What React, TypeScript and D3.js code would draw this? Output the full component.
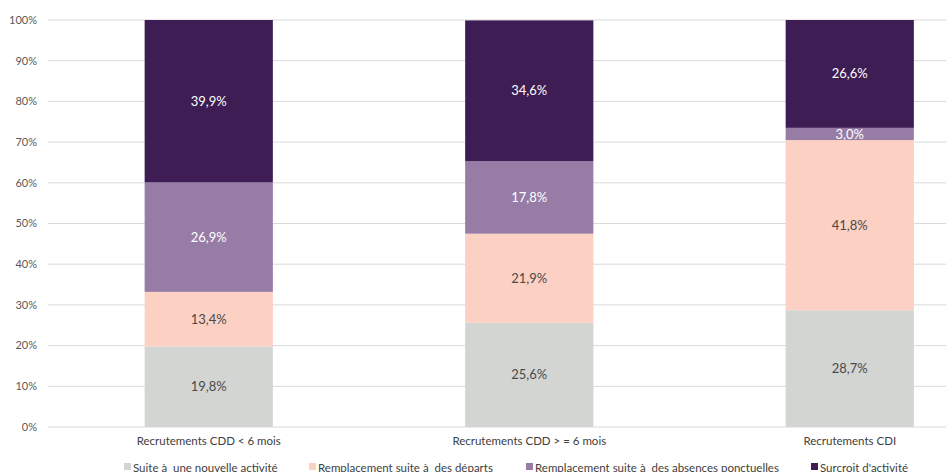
import React from "react";
import * as d3 from "d3";

const categories = ["Recrutements CDD < 6 mois", "Recrutements CDD > = 6 mois", "Recrutements CDI"];
const seriesNames = [
  "Suite à  une nouvelle activité",
  "Remplacement suite à  des départs",
  "Remplacement suite à  des absences ponctuelles",
  "Surcroit d'activité",
];
const nouvelleActivite = [19.8, 25.6, 28.7];
const departs = [13.4, 21.9, 41.8];
const absences = [26.9, 17.8, 3.0];
const surcroit = [39.9, 34.6, 26.6];
const yTicks = [0, 10, 20, 30, 40, 50, 60, 70, 80, 90, 100];
const colors = ["#d3d5d2", "#fcd0c2", "#977ca6", "#3d1d54"];
const labelColors = ["#4a4a4a", "#4a4a4a", "#ffffff", "#ffffff"];
const legendX = [124, 309, 526, 811];

const W = 946;
const H = 472;
const FONT = "Lato, 'Open Sans', sans-serif";

export default function App() {
  const series = [nouvelleActivite, departs, absences, surcroit];
  const x = d3.scaleBand<string>().domain(categories).range([48.5, 1010]).padding(0);
  const y = d3.scaleLinear().domain([0, 100]).range([427, 20]);
  const barW = x.bandwidth() * 0.4;

  const stacks = categories.map((c, i) => {
    let acc = 0;
    return series.map((s, k) => {
      const v = s[i];
      const y0 = acc;
      acc += v;
      return { k, v, y0, y1: Math.min(acc, 100) };
    });
  });

  const fmt = (v: number) => v.toFixed(1).replace(".", ",") + "%";

  return (
    <svg width={W} height={H} style={{ position: "absolute", left: 0, top: 0 }} fontFamily={FONT}>
      <rect width={W} height={H} fill="#ffffff" />
      {yTicks.map((t) => (
        <g key={t}>
          <line x1={48} x2={W} y1={y(t)} y2={y(t)} stroke="#d9d9d9" strokeWidth={1} />
          <text x={37} y={y(t)} dy="0.35em" textAnchor="end" fontSize={11} fill="#595959">
            {t}%
          </text>
        </g>
      ))}
      {categories.map((c, i) => {
        const cx = (x(c) as number) + x.bandwidth() / 2;
        return (
          <g key={c}>
            {stacks[i].map((s) => (
              <g key={s.k}>
                <rect
                  x={cx - barW / 2}
                  width={barW}
                  y={y(s.y1)}
                  height={y(s.y0) - y(s.y1)}
                  fill={colors[s.k]}
                />
                <text
                  x={cx}
                  y={(y(s.y0) + y(s.y1)) / 2}
                  dy="0.35em"
                  textAnchor="middle"
                  fontSize={13}
                  fill={labelColors[s.k]}
                >
                  {fmt(s.v)}
                </text>
              </g>
            ))}
            <text x={cx} y={441} dy="0.35em" textAnchor="middle" fontSize={11.5} fill="#404040">
              {c}
            </text>
          </g>
        );
      })}
      {seriesNames.map((n, k) => (
        <g key={n}>
          <rect x={legendX[k]} y={463} width={7} height={7} fill={colors[k]} />
          <text
            x={legendX[k] + 9}
            y={472}
            fontSize={11.5}
            fill="#404040"
            style={{ whiteSpace: "pre" }}
          >
            {n}
          </text>
        </g>
      ))}
    </svg>
  );
}
